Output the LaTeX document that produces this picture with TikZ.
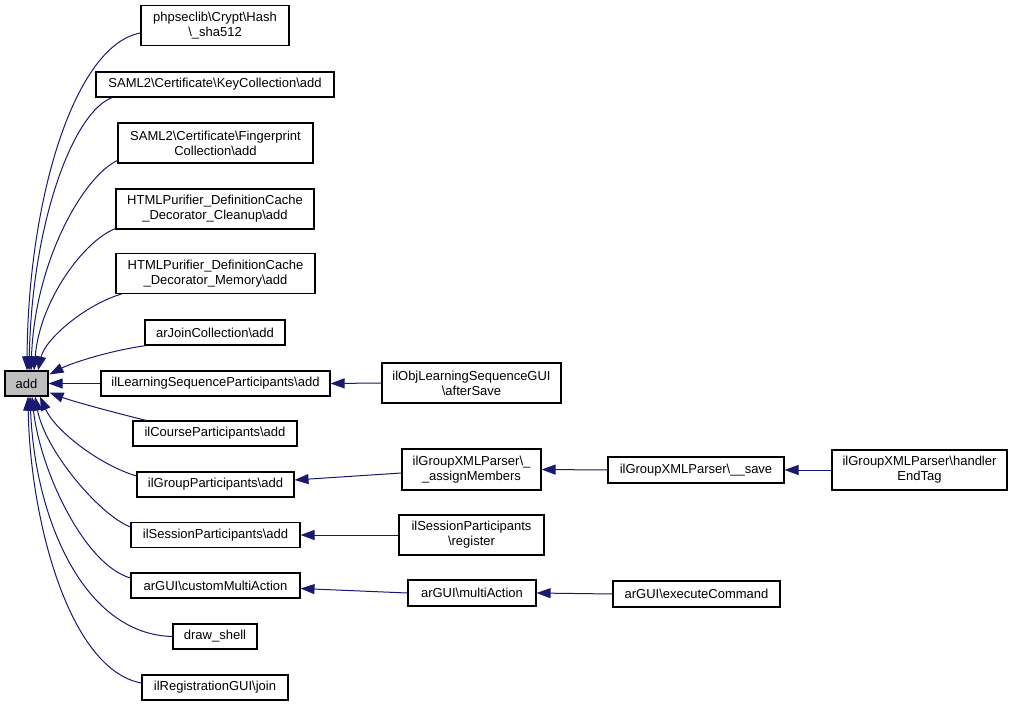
\documentclass[tikz,border=0pt]{standalone}
\usepackage{fontspec}
\setmainfont{Liberation Sans}
\usetikzlibrary{arrows.meta,calc}
\definecolor{edgeblue}{HTML}{191970}
\definecolor{addgray}{HTML}{BFBFBF}
\begin{document}
\begin{tikzpicture}[x=1pt,y=-1pt,
  box/.style={draw=black, line width=1.1pt, fill=white, rectangle, inner sep=0pt, align=center,
    font=\fontsize{13}{15}\selectfont},
  one/.style={box, minimum height=25pt},
  two/.style={box, minimum height=40pt},
  edge/.style={draw=edgeblue, line width=1pt, -{Triangle[length=14pt,width=10pt]}}]
\useasboundingbox (0,0) rectangle (1012,706);

% nodes
\node[two, minimum width=148pt] (php) at (215,25.5) {phpseclib\textbackslash Crypt\textbackslash Hash\\\textbackslash\_sha512};
\node[one, minimum width=238pt] (keycol) at (215,84.5) {SAML2\textbackslash Certificate\textbackslash KeyCollection\textbackslash add};
\node[two, minimum width=195pt] (finger) at (215.5,143) {SAML2\textbackslash Certificate\textbackslash Fingerprint\\Collection\textbackslash add};
\node[two, minimum width=198pt] (cleanup) at (215,209) {HTMLPurifier\_DefinitionCache\\\_Decorator\_Cleanup\textbackslash add};
\node[two, minimum width=199pt] (memory) at (215.5,273.5) {HTMLPurifier\_DefinitionCache\\\_Decorator\_Memory\textbackslash add};
\node[one, minimum width=140pt] (arjoin) at (215,332.5) {arJoinCollection\textbackslash add};
\node[one, minimum width=43pt, fill=addgray] (add) at (26.5,383.5) {add};
\node[one, minimum width=229pt] (ills) at (215.5,383.5) {ilLearningSequenceParticipants\textbackslash add};
\node[one, minimum width=164pt] (course) at (215,433.5) {ilCourseParticipants\textbackslash add};
\node[one, minimum width=157pt] (groupp) at (215.5,484.5) {ilGroupParticipants\textbackslash add};
\node[one, minimum width=169pt] (sessadd) at (215.5,535) {ilSessionParticipants\textbackslash add};
\node[one, minimum width=169pt] (cma) at (215.5,585.5) {arGUI\textbackslash customMultiAction};
\node[one, minimum width=84pt] (shell) at (215,636.5) {draw\_shell};
\node[one, minimum width=146pt] (reg) at (215,687.5) {ilRegistrationGUI\textbackslash join};
\node[two, minimum width=179pt] (objls) at (471.5,383) {ilObjLearningSequenceGUI\\\textbackslash afterSave};
\node[two, minimum width=139pt, minimum height=41pt] (assign) at (471.5,469.5) {ilGroupXMLParser\textbackslash\_\\\_assignMembers};
\node[two, minimum width=145pt] (register) at (471.5,535) {ilSessionParticipants\\\textbackslash register};
\node[one, minimum width=128pt, minimum height=26pt] (multi) at (472,593) {arGUI\textbackslash multiAction};
\node[one, minimum width=176pt, minimum height=26pt] (save) at (696,470) {ilGroupXMLParser\textbackslash\_\_save};
\node[two, minimum width=175pt] (handler) at (919.5,470) {ilGroupXMLParser\textbackslash handler\\EndTag};
\node[one, minimum width=167pt, minimum height=26pt] (exec) at (696.5,594) {arGUI\textbackslash executeCommand};

% edges into add (top)
\draw[edge] ($(php.west)+(0,7.5)$) .. controls +(-66,12) and +(1,-171) .. ($(add.north)+(0.5,0)$);
\draw[edge] ($(keycol.south west)+(17,0)$) .. controls +(-38,13) and +(3,-151) .. ($(add.north)+(2.5,0)$);
\draw[edge] ($(finger.south west)+(0,-3)$) .. controls +(-33,15) and +(4,-111) .. ($(add.north)+(4.5,0)$);
\draw[edge] ($(cleanup.south west)+(0,-1)$) .. controls +(-31,12) and +(6,-71) .. ($(add.north)+(7.5,0)$);
\draw[edge] ($(memory.south west)+(6,0)$) .. controls +(-37,11) and +(7,-31) .. ($(add.north)+(11.5,0)$);
\draw[edge] ($(arjoin.south west)+(2,0)$) .. controls +(-37,5) and +(21,-11) .. ($(add.north east)+(1,4)$);
\draw[edge] (ills.west) -- (add.east);
% edges into add (bottom)
\draw[edge] ($(course.north west)+(14,0)$) .. controls +(-37,-9) and +(21,8) .. ($(add.south east)+(1,-4)$);
\draw[edge] ($(groupp.west)+(0,-8.5)$) .. controls +(-37,-11) and +(15,34) .. ($(add.south)+(13.5,0)$);
\draw[edge] ($(sessadd.west)+(0,-8)$) .. controls +(-31,-12) and +(10,54) .. ($(add.south)+(8.5,0)$);
\draw[edge] ($(cma.west)+(0,-7.5)$) .. controls +(-46,-13) and +(8,74) .. ($(add.south)+(5.5,0)$);
\draw[edge] (shell.west) .. controls +(-88,-2) and +(5,124) .. ($(add.south)+(3.5,0)$);
\draw[edge] ($(reg.west)+(0,-4.5)$) .. controls +(-72,-13) and +(2,124) .. ($(add.south)+(1.5,0)$);

% right-hand edges
\draw[edge] (objls.west) -- (ills.east);
\draw[edge] ($(assign.west)+(0,3.5)$) -- ($(groupp.east)+(0,-4.5)$);
\draw[edge] (register.west) -- (sessadd.east);
\draw[edge] (multi.west) -- ($(cma.east)+(0,3)$);
\draw[edge] (save.west) -- (assign.east);
\draw[edge] (handler.west) -- (save.east);
\draw[edge] (exec.west) -- (multi.east);
\end{tikzpicture}
\end{document}
